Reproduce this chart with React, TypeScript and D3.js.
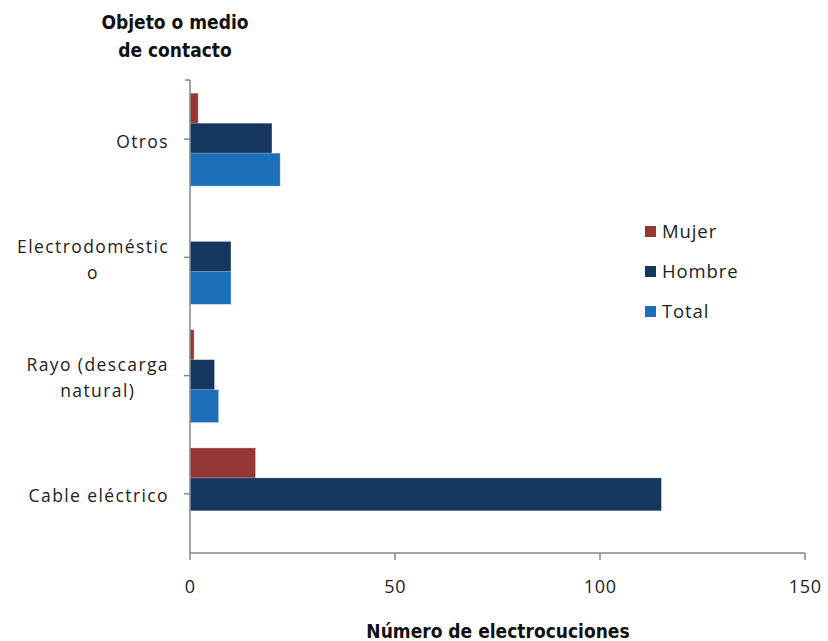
import React from "react";
import * as d3 from "d3";

const categories = ["Otros", "Electrodoméstico", "Rayo (descarga natural)", "Cable eléctrico"];
const categoryLines = [["Otros"], ["Electrodoméstic", "o"], ["Rayo (descarga", "natural)"], ["Cable eléctrico"]];
const seriesNames = ["Mujer", "Hombre", "Total"];
const mujer = [2, 0, 1, 16];
const hombre = [20, 10, 6, 115];
const total: (number | null)[] = [22, 10, 7, null];
const colors = ["#953735", "#15375f", "#1c6fb9"];
const xTicks = [0, 50, 100, 150];

const W = 828, H = 641;
const left = 190, right = 805, top = 80, bottom = 553;
const labelFont = "'Open Sans', 'Liberation Sans', Arial, sans-serif";
const boldFont = "'Liberation Sans Narrow', 'DejaVu Sans Condensed', 'Liberation Sans', sans-serif";

export default function App() {
  const x = d3.scaleLinear().domain([0, 150]).range([left, right]);
  const y = d3.scaleBand<string>().domain(categories).range([top, bottom]);
  const sub = d3.scaleBand<string>().domain(seriesNames).range([-46, 44]);
  const barH = 33;
  const data = [mujer, hombre, total];
  const axisColor = "#868686";
  return (
    <svg width={W} height={H} style={{ position: "absolute", left: 0, top: 0, background: "#fff" }}>
      {categories.map((c, ci) => {
        const cy = (y(c) as number) + y.bandwidth() / 2;
        return seriesNames.map((s, si) => {
          const v = data[si][ci];
          if (v == null || v === 0) return null;
          return (
            <rect key={c + s} x={x(0)} y={cy + (sub(s) as number)} width={x(v) - x(0)} height={barH}
              fill={colors[si]} stroke="rgba(255,255,255,0.5)" strokeWidth={0.7} />
          );
        });
      })}
      <line x1={left} x2={left} y1={top} y2={bottom} stroke={axisColor} strokeWidth={1.5} />
      <line x1={left - 5} x2={left} y1={top} y2={top} stroke={axisColor} strokeWidth={1.5} />
      {categories.map((c) => {
        const cy = (y(c) as number) + y.bandwidth() / 2;
        return <line key={c} x1={left - 6} x2={left} y1={cy} y2={cy} stroke={axisColor} strokeWidth={1.5} />;
      })}
      <line x1={left} x2={right} y1={bottom} y2={bottom} stroke={axisColor} strokeWidth={1.5} />
      {xTicks.map((t) => (
        <g key={t}>
          <line x1={x(t)} x2={x(t)} y1={bottom} y2={bottom + 7} stroke={axisColor} strokeWidth={1.5} />
          <text x={x(t) + 0.3} y={593} textAnchor="middle" fontFamily={labelFont} fontSize={18} letterSpacing={0.8} fill="#222">{t}</text>
        </g>
      ))}
      {categories.map((c, ci) => {
        const cy = (y(c) as number) + y.bandwidth() / 2;
        return <CatLabel key={c} lines={categoryLines[ci]} cy={cy} />;
      })}
      <text x={175} y={29} textAnchor="middle" fontFamily={boldFont} fontWeight="bold" fontSize={19} fill="#111">Objeto o medio</text>
      <text x={175} y={57} textAnchor="middle" fontFamily={boldFont} fontWeight="bold" fontSize={19} fill="#111">de contacto</text>
      <text x={498} y={638} textAnchor="middle" fontFamily={boldFont} fontWeight="bold" fontSize={19} fill="#111">Número de electrocuciones</text>
      {seriesNames.map((s, si) => (
        <g key={s} transform={`translate(645, ${226 + si * 40})`}>
          <rect x={0} y={0} width={11} height={11} fill={colors[si]} />
          <text x={17} y={12} fontFamily={labelFont} fontSize={18.5} letterSpacing={0.9} fill="#222">{s}</text>
        </g>
      ))}
    </svg>
  );
}

function CatLabel({ lines, cy }: { lines: string[]; cy: number }) {
  const ref = React.useRef<SVGGElement>(null);
  const [cx, setCx] = React.useState(90);
  const lh = 26.5;
  React.useLayoutEffect(() => {
    if (!ref.current) return;
    const texts = ref.current.querySelectorAll("text");
    let maxW = 0;
    texts.forEach((t) => { maxW = Math.max(maxW, (t as SVGTextElement).getComputedTextLength()); });
    setCx(169 - maxW / 2);
  }, []);
  const startY = cy - ((lines.length - 1) * lh) / 2 + 8.5;
  return (
    <g ref={ref}>
      {lines.map((l, i) => (
        <text key={i} x={cx} y={startY + i * lh} textAnchor="middle" fontFamily={labelFont} fontSize={17.5} letterSpacing={1.4} fill="#222">{l}</text>
      ))}
    </g>
  );
}
